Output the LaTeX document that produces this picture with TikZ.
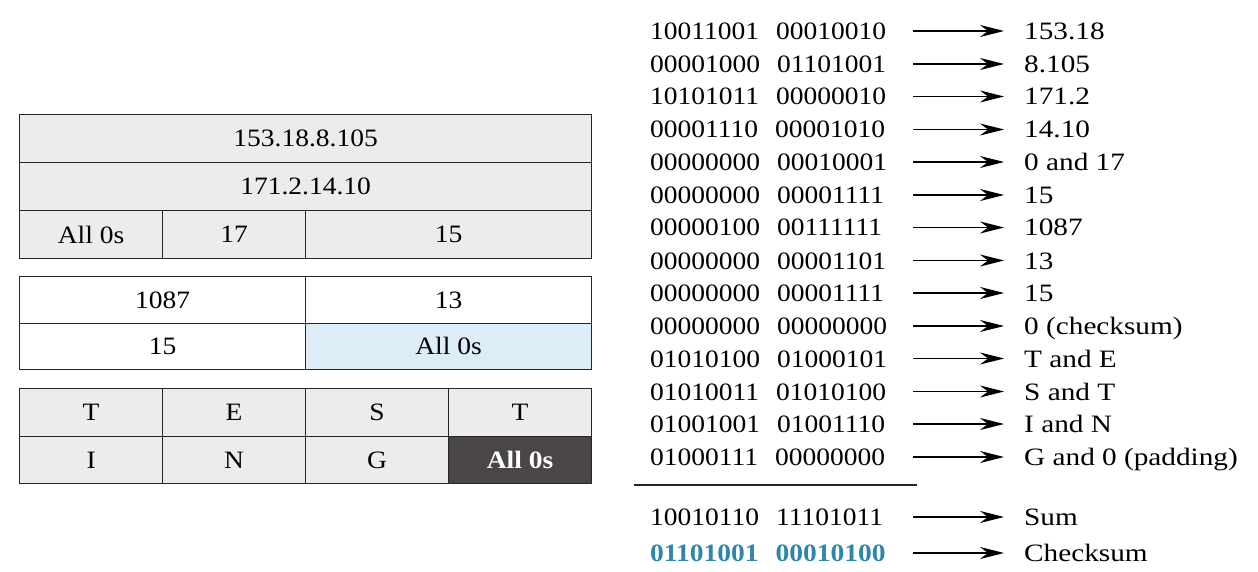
\documentclass[tikz,border=0pt]{standalone}
\usepackage{fontspec}
\setmainfont{Liberation Serif}[FakeStretch=1.1]
\newfontfamily\labfont{Liberation Serif}[FakeStretch=1.17]
\usetikzlibrary{arrows.meta}
\definecolor{cellgray}{HTML}{ECECEC}
\definecolor{cellblue}{HTML}{DDEDF7}
\definecolor{celldark}{HTML}{4A4646}
\definecolor{sumblue}{HTML}{2F86AC}
\begin{document}
\begin{tikzpicture}[x=1pt,y=-1pt,
  txt/.style={font=\fontsize{25}{30}\selectfont},
  cell/.style={txt, draw=black!85, line width=1.2pt, inner sep=0pt, anchor=north west, minimum height=#1},
  cell/.default=48pt,
  bin/.style={txt, inner sep=0pt, text height=17pt, text depth=0pt, text width=245pt, align=left, anchor=west},
  lab/.style={font=\fontsize{25}{30}\selectfont\labfont, inner sep=0pt, text height=17pt, text depth=0pt, anchor=west},
  arr/.style={-{Stealth[length=24pt,width=12pt,inset=8pt]}, line width=1.7pt, shorten <=18pt, shorten >=20pt},
  rule/.style={line width=1.3pt, black!85}
]
\useasboundingbox (0,0) rectangle (1258,572);
% ---- table 1
\node[cell, fill=cellgray, minimum width=572pt] (t11) at (19,114) {153.18.8.105};
\node[cell, fill=cellgray, minimum width=572pt] (t12) at (19,162) {171.2.14.10};
\node[cell, fill=cellgray, minimum width=143pt] (t13a) at (19,210) {All 0s};
\node[cell, fill=cellgray, minimum width=143pt] (t13b) at (162,210) {17};
\node[cell, fill=cellgray, minimum width=286pt] (t13c) at (305,210) {15};
% ---- table 2
\node[cell=46.5pt, fill=white, minimum width=286pt] (t21a) at (19,276) {1087};
\node[cell=46.5pt, fill=white, minimum width=286pt] (t21b) at (305,276) {13};
\node[cell=46.5pt, fill=white, minimum width=286pt] (t22a) at (19,322.5) {15};
\node[cell=46.5pt, fill=cellblue, minimum width=286pt] (t22b) at (305,322.5) {All 0s};
% ---- table 3
\node[cell=47.5pt, fill=cellgray, minimum width=143pt] (t31a) at (19,388) {T};
\node[cell=47.5pt, fill=cellgray, minimum width=143pt] (t31b) at (162,388) {E};
\node[cell=47.5pt, fill=cellgray, minimum width=143pt] (t31c) at (305,388) {S};
\node[cell=47.5pt, fill=cellgray, minimum width=143pt] (t31d) at (448,388) {T};
\node[cell=47.5pt, fill=cellgray, minimum width=143pt] (t32a) at (19,435.5) {I};
\node[cell=47.5pt, fill=cellgray, minimum width=143pt] (t32b) at (162,435.5) {N};
\node[cell=47.5pt, fill=cellgray, minimum width=143pt] (t32c) at (305,435.5) {G};
\node[cell=47.5pt, fill=celldark, text=white, font=\fontsize{25}{30}\selectfont\bfseries, minimum width=143pt] (t32d) at (448,435.5) {All 0s};
% ---- right side
\foreach \i/\ya/\bb/\lb in {
  1/31/{10011001\hspace{17pt}00010010}/{153.18},
  2/64/{00001000\hspace{17pt}01101001}/{8.105},
  3/96.5/{10101011\hspace{17pt}00000010}/{171.2},
  4/129.5/{00001110\hspace{17pt}00001010}/{14.10},
  5/162/{00000000\hspace{17pt}00010001}/{0 and 17},
  6/195/{00000000\hspace{17pt}00001111}/{15},
  7/227.5/{00000100\hspace{17pt}00111111}/{1087},
  8/260.5/{00000000\hspace{17pt}00001101}/{13},
  9/293/{00000000\hspace{17pt}00001111}/{15},
  10/326/{00000000\hspace{17pt}00000000}/{0 (checksum)},
  11/358.5/{01010100\hspace{17pt}01000101}/{T and E},
  12/391.5/{01010011\hspace{17pt}01010100}/{S and T},
  13/424/{01001001\hspace{17pt}01001110}/{I and N},
  14/457/{01000111\hspace{17pt}00000000}/{G and 0 (padding)},
  15/517/{10010110\hspace{17pt}11101011}/{Sum}} {
  \node[bin] (b\i) at (650,\ya) {\bb};
  \node[lab] (l\i) at (1024,\ya) {\lb};
  \draw[arr] (b\i) -- (l\i);
}
\node[bin, text=sumblue, font=\fontsize{25}{30}\selectfont\bfseries] (b16) at (650,553) {01101001\hspace{17pt}00010100};
\node[lab] (l16) at (1024,553) {Checksum};
\draw[arr] (b16) -- (l16);
\coordinate (ls) at (634,485);
\coordinate (le) at (917,485);
\draw[rule] (ls) -- (le);
\end{tikzpicture}
\end{document}
